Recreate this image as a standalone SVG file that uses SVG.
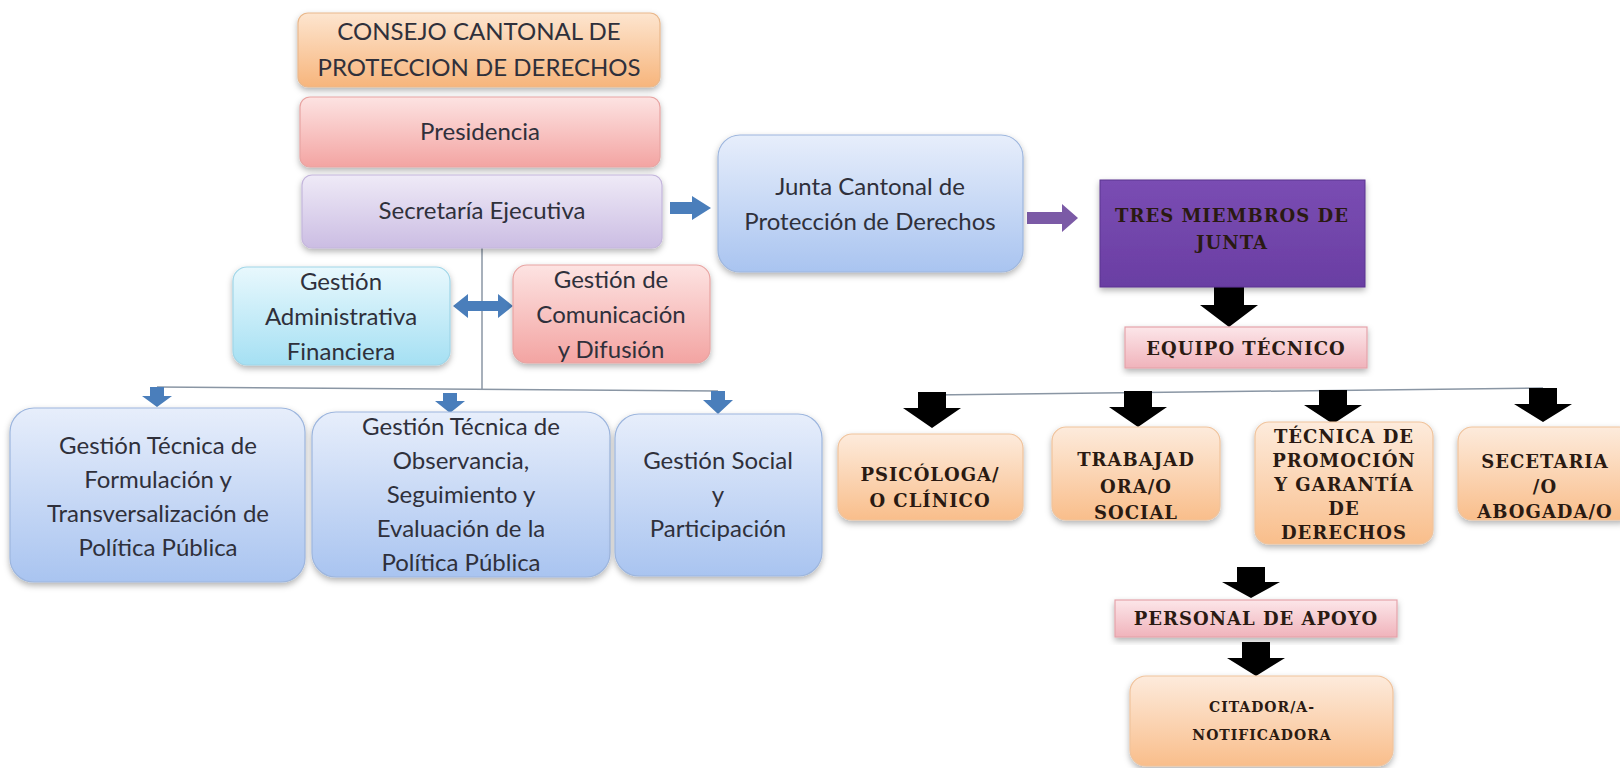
<svg xmlns="http://www.w3.org/2000/svg" width="1620" height="768" viewBox="0 0 1620 768">
<defs>
<linearGradient id="gOrange" x1="0" y1="0" x2="0" y2="1"><stop offset="0" stop-color="#fde5cf"/><stop offset="1" stop-color="#f7b57c"/></linearGradient>
<linearGradient id="gRed" x1="0" y1="0" x2="0" y2="1"><stop offset="0" stop-color="#fde3e2"/><stop offset="1" stop-color="#f3a4a2"/></linearGradient>
<linearGradient id="gLav" x1="0" y1="0" x2="0" y2="1"><stop offset="0" stop-color="#efeaf7"/><stop offset="1" stop-color="#cbbde3"/></linearGradient>
<linearGradient id="gBlue" x1="0" y1="0" x2="0" y2="1"><stop offset="0" stop-color="#e7eefb"/><stop offset="1" stop-color="#a9c4f0"/></linearGradient>
<linearGradient id="gCyan" x1="0" y1="0" x2="0" y2="1"><stop offset="0" stop-color="#e8f8fd"/><stop offset="1" stop-color="#a5e0f3"/></linearGradient>
<linearGradient id="gPink" x1="0" y1="0" x2="0" y2="1"><stop offset="0" stop-color="#fce6e9"/><stop offset="1" stop-color="#f0b3bb"/></linearGradient>
<linearGradient id="gPeach" x1="0" y1="0" x2="0" y2="1"><stop offset="0" stop-color="#fdebdc"/><stop offset="1" stop-color="#f9be8b"/></linearGradient>
<linearGradient id="gPurple" x1="0" y1="0" x2="0" y2="1"><stop offset="0" stop-color="#7a4db3"/><stop offset="1" stop-color="#6a3ea3"/></linearGradient>
<filter id="sh" x="-10%" y="-10%" width="120%" height="130%"><feDropShadow dx="0" dy="3" stdDeviation="3" flood-color="#000" flood-opacity="0.3"/></filter>
</defs>
<style>
.box{filter:url(#sh);stroke-width:1.2}
.cal{font-family:Lato,"Open Sans",sans-serif;font-size:24px;fill:#2f303b;text-anchor:middle}
.ser{font-family:"DejaVu Serif",serif;font-weight:bold;font-size:18px;letter-spacing:1px;fill:#2a1a12;text-anchor:middle}
.blk{fill:#000}
.bl{fill:#4a7ebb}
.ln{stroke:#8a96a4;stroke-width:1.5;fill:none}
</style>
<rect width="1620" height="768" fill="#ffffff"/>

<g id="connectors">
<path class="ln" d="M482 248 V390"/>
<path class="ln" d="M157 387 L718 391"/>
<path class="ln" d="M932 395 L1543 388"/>
<path class="bl" d="M670 202 H692 V196 L711 208 L692 220 V214 H670 Z"/>
<path fill="#7b5aa6" d="M1027 212 H1062 V204 L1078 218 L1062 232 V224 H1027 Z"/>
<path class="bl" d="M453 306 L468 294 V301 H498 V294 L513 306 L498 318 V311 H468 V318 Z"/>
<path class="bl" d="M150 387 H164 V396 H172 L157 407 L142 396 H150 Z"/>
<path class="bl" d="M443 393 H457 V401 H465 L450 413 L435 401 H443 Z"/>
<path class="bl" d="M711 391 H725 V400 H733 L718 414 L703 400 H711 Z"/>
<path class="blk" d="M1214 287 H1244 V305 H1258 L1229 327 L1200 305 H1214 Z"/>
<path class="blk" d="M918 392 H946 V408 H961 L932 428 L903 408 H918 Z"/>
<path class="blk" d="M1124 391 H1152 V407 H1167 L1138 427 L1109 407 H1124 Z"/>
<path class="blk" d="M1319 390 H1347 V405 H1362 L1333 424 L1304 405 H1319 Z"/>
<path class="blk" d="M1529 388 H1557 V404 H1572 L1543 422 L1514 404 H1529 Z"/>
<path class="blk" d="M1237 567 H1265 V582 H1280 L1251 598 L1222 582 H1237 Z"/>
<path class="blk" d="M1242 642 H1270 V658 H1285 L1256 676 L1227 658 H1242 Z"/>
</g>

<g id="consejo">
<rect class="box" x="298" y="13" width="362" height="74" rx="10" fill="url(#gOrange)" stroke="#e9b88c"/>
<text class="cal" x="479" y="40" fill="#4a3a2c">CONSEJO CANTONAL DE</text>
<text class="cal" x="479" y="76" fill="#4a3a2c">PROTECCION DE DERECHOS</text>
</g>
<g id="presidencia">
<rect class="box" x="300" y="97" width="360" height="70" rx="10" fill="url(#gRed)" stroke="#e8a4a2"/>
<text class="cal" x="480" y="140">Presidencia</text>
</g>
<g id="secretaria">
<rect class="box" x="302" y="175" width="360" height="73" rx="10" fill="url(#gLav)" stroke="#c4b6dc"/>
<text class="cal" x="482" y="219">Secretaría Ejecutiva</text>
</g>
<g id="junta">
<rect class="box" x="718" y="135" width="305" height="137" rx="22" fill="url(#gBlue)" stroke="#9db6de"/>
<text class="cal" x="870" y="195">Junta Cantonal de</text>
<text class="cal" x="870" y="230">Protección de Derechos</text>
</g>
<g id="administrativa">
<rect class="box" x="233" y="267" width="217" height="98" rx="14" fill="url(#gCyan)" stroke="#a0d6e8"/>
<text class="cal" x="341" y="290">Gestión</text>
<text class="cal" x="341" y="325">Administrativa</text>
<text class="cal" x="341" y="360">Financiera</text>
</g>
<g id="comunicacion">
<rect class="box" x="513" y="265" width="197" height="98" rx="14" fill="url(#gRed)" stroke="#e8a4a2"/>
<text class="cal" x="611" y="288">Gestión de</text>
<text class="cal" x="611" y="323">Comunicación</text>
<text class="cal" x="611" y="358">y Difusión</text>
</g>
<g id="formulacion">
<rect class="box" x="10" y="408" width="295" height="174" rx="24" fill="url(#gBlue)" stroke="#9db6de"/>
<text class="cal" x="158" y="454">Gestión Técnica de</text>
<text class="cal" x="158" y="488">Formulación y</text>
<text class="cal" x="158" y="522">Transversalización de</text>
<text class="cal" x="158" y="556">Política Pública</text>
</g>
<g id="observancia">
<rect class="box" x="312" y="412" width="298" height="165" rx="24" fill="url(#gBlue)" stroke="#9db6de"/>
<text class="cal" x="461" y="435">Gestión Técnica de</text>
<text class="cal" x="461" y="469">Observancia,</text>
<text class="cal" x="461" y="503">Seguimiento y</text>
<text class="cal" x="461" y="537">Evaluación de la</text>
<text class="cal" x="461" y="571">Política Pública</text>
</g>
<g id="social">
<rect class="box" x="615" y="414" width="207" height="162" rx="24" fill="url(#gBlue)" stroke="#9db6de"/>
<text class="cal" x="718" y="469">Gestión Social</text>
<text class="cal" x="718" y="503">y</text>
<text class="cal" x="718" y="537">Participación</text>
</g>
<g id="tres">
<rect x="1100" y="180" width="265" height="107" fill="url(#gPurple)" stroke="#5b3590" filter="url(#sh)"/>
<text class="ser" x="1232" y="222" fill="#26103e">TRES MIEMBROS DE</text>
<text class="ser" x="1232" y="249" fill="#26103e">JUNTA</text>
</g>
<g id="equipo">
<rect class="box" x="1125" y="327" width="242" height="41" fill="url(#gPink)" stroke="#e4a3ab"/>
<text class="ser" x="1246" y="355">EQUIPO TÉCNICO</text>
</g>
<g id="psicologa">
<rect class="box" x="838" y="434" width="185" height="86" rx="14" fill="url(#gPeach)" stroke="#f0c39c"/>
<text class="ser" x="930" y="481">PSICÓLOGA/</text>
<text class="ser" x="930" y="507">O CLÍNICO</text>
</g>
<g id="trabajadora">
<rect class="box" x="1052" y="427" width="168" height="93" rx="14" fill="url(#gPeach)" stroke="#f0c39c"/>
<text class="ser" x="1136" y="466">TRABAJAD</text>
<text class="ser" x="1136" y="493">ORA/O</text>
<text class="ser" x="1136" y="519">SOCIAL</text>
</g>
<g id="tecnica">
<rect class="box" x="1255" y="422" width="178" height="122" rx="14" fill="url(#gPeach)" stroke="#f0c39c"/>
<text class="ser" x="1344" y="443">TÉCNICA DE</text>
<text class="ser" x="1344" y="467">PROMOCIÓN</text>
<text class="ser" x="1344" y="491">Y GARANTÍA</text>
<text class="ser" x="1344" y="515">DE</text>
<text class="ser" x="1344" y="539">DERECHOS</text>
</g>
<g id="secetaria">
<rect class="box" x="1458" y="427" width="175" height="93" rx="14" fill="url(#gPeach)" stroke="#f0c39c"/>
<text class="ser" x="1545" y="468">SECETARIA</text>
<text class="ser" x="1545" y="493">/O</text>
<text class="ser" x="1545" y="518">ABOGADA/O</text>
</g>
<g id="personal">
<rect class="box" x="1115" y="600" width="282" height="37" fill="url(#gPink)" stroke="#e4a3ab"/>
<text class="ser" x="1256" y="625">PERSONAL DE APOYO</text>
</g>
<g id="citador">
<rect class="box" x="1130" y="676" width="263" height="90" rx="16" fill="url(#gPeach)" stroke="#f0c39c"/>
<text class="ser" x="1262" y="712" style="font-size:14px">CITADOR/A-</text>
<text class="ser" x="1262" y="740" style="font-size:14px">NOTIFICADORA</text>
</g>
</svg>
